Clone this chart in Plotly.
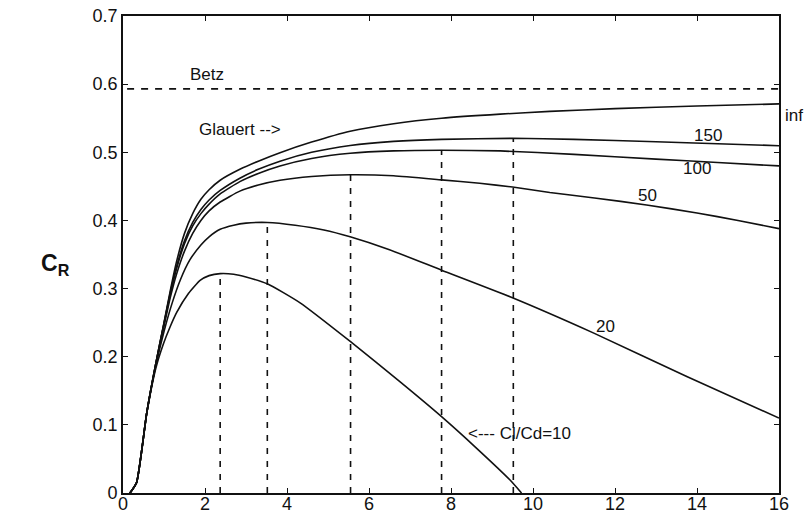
import plotly.graph_objects as go

# ---- data ----
x_inf = [0.17, 0.33, 0.58, 0.8, 1.0, 1.15, 1.3, 1.5, 1.7, 1.9, 2.1, 2.37, 2.85, 3.3, 3.83, 4.6, 5.54, 6.6, 7.77, 9.2, 10.41, 12.0, 14.0, 16.0]
y_inf = [0.0, 0.015, 0.118, 0.19, 0.25, 0.296, 0.338, 0.381, 0.41, 0.431, 0.445, 0.459, 0.475, 0.487, 0.4995, 0.515, 0.531, 0.542, 0.55, 0.556, 0.56, 0.564, 0.568, 0.571]

x_150 = [0.17, 0.33, 0.58, 0.8, 1.0, 1.15, 1.3, 1.5, 1.7, 1.9, 2.1, 2.37, 2.85, 3.3, 3.83, 4.6, 5.54, 6.6, 7.77, 9.5, 11.0, 13.0, 14.5, 16.0]
y_150 = [0.0, 0.015, 0.118, 0.19, 0.249, 0.293, 0.331, 0.370, 0.397, 0.416, 0.430, 0.444, 0.462, 0.475, 0.487, 0.500, 0.510, 0.516, 0.519, 0.5205, 0.519, 0.5155, 0.5125, 0.5097]

x_100 = [0.17, 0.33, 0.58, 0.8, 1.0, 1.15, 1.3, 1.5, 1.7, 1.9, 2.1, 2.37, 2.85, 3.3, 3.83, 4.6, 5.54, 6.6, 7.77, 9.2, 11.0, 13.0, 14.5, 16.0]
y_100 = [0.0, 0.015, 0.118, 0.19, 0.248, 0.291, 0.328, 0.366, 0.392, 0.410, 0.424, 0.439, 0.457, 0.469, 0.480, 0.491, 0.4985, 0.502, 0.503, 0.502, 0.497, 0.490, 0.485, 0.480]

x_50 = [0.17, 0.33, 0.58, 0.8, 1.0, 1.15, 1.3, 1.5, 1.7, 1.9, 2.1, 2.37, 2.85, 3.3, 3.83, 4.6, 5.55, 6.6, 7.77, 8.7, 9.5, 10.41, 11.5, 12.77, 14.0, 15.0, 16.0]
y_50 = [0.0, 0.015, 0.118, 0.189, 0.245, 0.286, 0.320, 0.355, 0.381, 0.400, 0.414, 0.427, 0.443, 0.452, 0.459, 0.4645, 0.467, 0.4655, 0.4595, 0.4545, 0.449, 0.441, 0.433, 0.4227, 0.411, 0.400, 0.388]

x_20 = [0.17, 0.33, 0.58, 0.8, 1.0, 1.2, 1.4, 1.63, 1.9, 2.1, 2.37, 2.7, 3.0, 3.52, 4.2, 4.9, 5.54, 6.5, 7.77, 9.44, 11.47, 13.75, 16.0]
y_20 = [0.0, 0.015, 0.118, 0.187, 0.237, 0.279, 0.313, 0.342, 0.364, 0.376, 0.387, 0.393, 0.396, 0.397, 0.393, 0.386, 0.376, 0.357, 0.327, 0.288, 0.235, 0.171, 0.110]

x_10 = [0.17, 0.33, 0.58, 0.8, 0.98, 1.15, 1.31, 1.6, 1.88, 2.1, 2.37, 2.7, 3.0, 3.52, 4.32, 5.55, 6.76, 7.77, 8.6, 9.44, 9.72]
y_10 = [0.0, 0.015, 0.117, 0.183, 0.218, 0.244, 0.265, 0.293, 0.312, 0.319, 0.322, 0.321, 0.317, 0.307, 0.279, 0.222, 0.163, 0.112, 0.067, 0.019, 0.0]

opt_tsr = [2.37, 3.52, 5.55, 7.77, 9.52]
opt_cp = [0.322, 0.397, 0.467, 0.503, 0.5205]

betz = 0.593
x_ticks = [0, 2, 4, 6, 8, 10, 12, 14, 16]
y_ticks = [0, 0.1, 0.2, 0.3, 0.4, 0.5, 0.6, 0.7]
y_tick_labels = ["0", "0.1", "0.2", "0.3", "0.4", "0.5", "0.6", "0.7"]

LINE = "#111111"
FONT = "Liberation Sans, Arial, sans-serif"

fig = go.Figure()

for xs, ys in [(x_inf, y_inf), (x_150, y_150), (x_100, y_100), (x_50, y_50), (x_20, y_20), (x_10, y_10)]:
    fig.add_trace(go.Scatter(x=xs, y=ys, mode="lines",
                             line=dict(color=LINE, width=1.6, shape="spline", smoothing=0.5),
                             showlegend=False, hoverinfo="skip"))

# vertical dashed lines at optimum tip speed ratio
for xv, yv in zip(opt_tsr, opt_cp):
    fig.add_trace(go.Scatter(x=[xv, xv], y=[0, yv], mode="lines",
                             line=dict(color=LINE, width=1.6, dash="6px,7px"),
                             showlegend=False, hoverinfo="skip"))

# Betz limit
fig.add_trace(go.Scatter(x=[0.1, 16], y=[betz, betz], mode="lines",
                         line=dict(color=LINE, width=1.6, dash="7px,7px"),
                         showlegend=False, hoverinfo="skip"))

ann = dict(showarrow=False, font=dict(family=FONT, size=17, color="#111"))
annotations = [
    dict(x=2.05, y=0.6145, text="Betz", **ann),
    dict(x=1.8, y=0.533, text="Glauert -->", xanchor="left", **ann),
    dict(x=1.006, y=0.571 / 0.7, xref="paper", yref="paper", text="inf", xanchor="left", **ann),
    dict(x=14.27, y=0.525, text="150", **ann),
    dict(x=14.0, y=0.476, text="100", **ann),
    dict(x=12.8, y=0.437, text="50", **ann),
    dict(x=11.76, y=0.245, text="20", **ann),
    dict(x=8.37, y=0.088, text="<--- Cl/Cd=10", xanchor="left", **ann),
    dict(x=-0.128, y=0.478, xref="paper", yref="paper", text="<b>C<sub>R</sub></b>",
         showarrow=False, font=dict(family=FONT, size=23, color="#111")),
]

axis_common = dict(showgrid=False, zeroline=False, showline=True, linecolor=LINE, linewidth=1.6,
                   mirror="ticks", ticks="inside", ticklen=5, tickcolor=LINE, tickwidth=1.2,
                   automargin=False,
                   tickfont=dict(family=FONT, size=18, color="#111"))

fig.update_layout(
    width=807, height=516,
    margin=dict(l=123, r=28, t=16, b=23),
    paper_bgcolor="white", plot_bgcolor="white",
    xaxis=dict(range=[0, 16], tickvals=x_ticks, ticklabelstandoff=-6, **axis_common),
    yaxis=dict(range=[0, 0.7], tickvals=y_ticks, ticktext=y_tick_labels, **axis_common),
    annotations=annotations,
)

fig.write_html("out.html", config={"displayModeBar": False},
               post_script="document.body.style.margin='0';document.body.style.overflow='hidden';")
